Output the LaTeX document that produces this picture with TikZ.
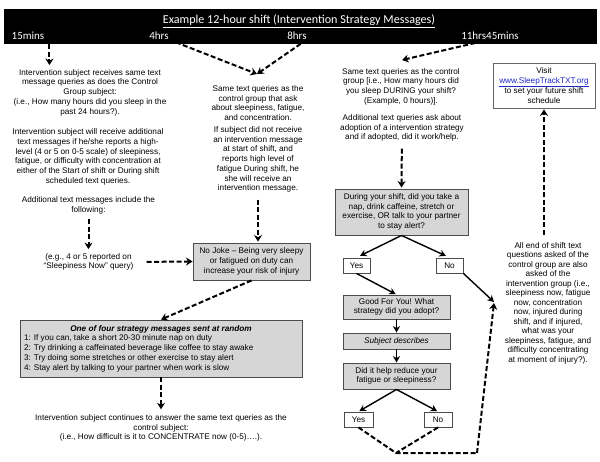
\documentclass[tikz,border=0pt]{standalone}
\usepackage{fontspec}
\setmainfont{Liberation Sans}
\newfontfamily\calfont{Carlito}
\usetikzlibrary{arrows.meta}
\definecolor{boxgray}{gray}{0.84}
\definecolor{linkblue}{RGB}{30,40,200}
\begin{document}
\begin{tikzpicture}[x=1pt,y=-1pt,
  txt/.style={align=center, font=\fontsize{8.2}{9.7}\selectfont, inner sep=0pt},
  gbox/.style={draw=black!70, fill=boxgray, line width=0.9pt, align=center, inner sep=1pt,
     font=\fontsize{8.2}{9.7}\selectfont},
  wbox/.style={draw=black!70, fill=white, line width=0.9pt, align=center, inner sep=1pt,
     font=\fontsize{8.2}{9.7}\selectfont},
  banlabel/.style={text=white, font=\calfont\fontsize{11}{12}\selectfont, inner sep=0pt},
  darr/.style={-{Stealth[length=6.5pt,width=8pt]}, line width=2pt, dash pattern=on 5pt off 2.5pt},
  dline/.style={line width=2pt, dash pattern=on 5pt off 2.5pt},
  sarr/.style={-{Stealth[length=6.5pt,width=7pt]}, line width=1.4pt},
]
\useasboundingbox (0,0) rectangle (600,462);

% banner
\node[fill=black, minimum width=593pt, minimum height=35pt, inner sep=0pt] (banner) at (300.5,26.5) {};
\node[banlabel, font=\calfont\fontsize{12.1}{13}\selectfont] (title) at (299,21) {\underline{Example 12-hour shift (Intervention Strategy Messages)}};
\node[banlabel] (t1) at (28,35.5) {15mins};
\node[banlabel] (t2) at (159,35.5) {4hrs};
\node[banlabel] (t3) at (297,35.5) {8hrs};
\node[banlabel] (t4) at (490,35.5) {11hrs45mins};

% left column
\node[txt] (L1) at (90,92.5) {Intervention subject receives same text\\message queries as does the Control\\Group subject:\\(i.e., How many hours did you sleep in the\\past 24 hours?).};
\node[txt] (L2) at (88,157) {Intervention subject will receive additional\\text messages if he/she reports a high-\\level (4 or 5 on 0-5 scale) of sleepiness,\\fatigue, or difficulty with concentration at\\either of the Start of shift or During shift\\scheduled text queries.};
\node[txt] (L3) at (88.5,205.5) {Additional text messages include the\\following:};
\node[txt] (L4) at (88.5,262) {(e.g., 4 or 5 reported on\\``Sleepiness Now'' query)};

% middle column
\node[txt] (M1) at (258,103) {Same text queries as the\\control group that ask\\about sleepiness, fatigue,\\and concentration.};
\node[txt] (M2) at (258,159.5) {If subject did not receive\\an intervention message\\at start of shift, and\\reports high level of\\fatigue During shift, he\\she will receive an\\intervention message.};
\node[gbox, minimum width=117pt, minimum height=37pt] (nojoke) at (251.5,261.5) {No Joke -- Being very sleepy\\or fatigued on duty can\\increase your risk of injury};

\node[gbox, minimum width=282pt, minimum height=57pt, align=left] (strat) at (161,348.5)
  {\makebox[274pt][c]{\bfseries\itshape One of four strategy messages sent at random}\\
   1: If you can, take a short 20-30 minute nap on duty\\
   2: Try drinking a caffeinated beverage like coffee to stay awake\\
   3: Try doing some stretches or other exercise to stay alert\\
   4: Stay alert by talking to your partner when work is slow};
\node[txt] (L5) at (161,428) {Intervention subject continues to answer the same text queries as the\\control subject:\\(i.e., How difficult is it to CONCENTRATE now (0-5)\dots.).};

% right-middle column
\node[txt] (R1) at (401,86.5) {Same text queries as the control\\group [i.e., How many hours did\\you sleep DURING your shift?\\(Example, 0 hours)].};
\node[txt] (R2) at (402,128) {Additional text queries ask about\\adoption of a intervention strategy\\and if adopted, did it work/help.};
\node[gbox, minimum width=133pt, minimum height=46pt] (Q1) at (401.5,212) {During your shift, did you take a\\nap, drink caffeine, stretch or\\exercise, OR talk to your partner\\to stay alert?};
\node[wbox, minimum width=27pt, minimum height=15pt] (yes1) at (356.5,265.5) {Yes};
\node[wbox, minimum width=27pt, minimum height=15pt] (no1) at (449.5,265.5) {No};
\node[gbox, minimum width=107pt, minimum height=24pt] (good) at (396.5,307) {Good For You! What\\strategy did you adopt?};
\node[gbox, minimum width=107pt, minimum height=16pt, font=\fontsize{8.2}{9.7}\selectfont\itshape] (subj) at (396.5,341) {Subject describes};
\node[gbox, minimum width=107pt, minimum height=26pt] (did) at (396.5,376) {Did it help reduce your\\fatigue or sleepiness?};
\node[wbox, minimum width=29pt, minimum height=15pt] (yes2) at (358.5,419.5) {Yes};
\node[wbox, minimum width=28pt, minimum height=15pt] (no2) at (438,419.5) {No};

% right column
\node[draw=black!60, fill=white, line width=0.8pt, align=center, inner sep=1pt,
      font=\fontsize{8.2}{9.3}\selectfont, minimum width=102pt, minimum height=45pt] (visit) at (544,85.5)
  {Visit\\\textcolor{linkblue}{\underline{www.SleepTrackTXT.org}}\\to set your future shift\\schedule};
\node[txt, font=\fontsize{8.2}{9.5}\selectfont] (E) at (548,303) {All end of shift text\\questions asked of the\\control group are also\\asked of the\\intervention group (i.e.,\\sleepiness now, fatigue\\now, concentration\\now, injured during\\shift, and if injured,\\what was your\\sleepiness, fatigue, and\\difficulty concentrating\\at moment of injury?).};

% named free ends
\coordinate (m1) at (257,74);
\coordinate (r1) at (402,60);
\coordinate (conv) at (494,302);
\coordinate (join) at (396,453);
\coordinate (corner) at (477,453);

% connectors from banner
\draw[darr, shorten >=4pt] ([xshift=5pt]t1.east |- banner.south) -- ([xshift=5pt]t1.east |- L1.north);
\draw[darr] (t2.south east) -- (m1);
\draw[darr] (t3.south east) -- (m1);
\draw[darr] (t4.south) -- (r1);

% left flow
\draw[darr, shorten <=5pt, shorten >=4pt] (L3) -- (L4);
\draw[darr, shorten <=13pt] (L4.east) -- (nojoke.west);
\draw[darr, shorten <=7pt, shorten >=1pt] (M2) -- (M2 |- nojoke.north);
\draw[darr] (nojoke.south) -- (strat.north);
\draw[darr, shorten >=5pt] (strat.south) -- (L5.north);

% right flow
\draw[darr, shorten <=7pt, shorten >=1pt] (R2) -- (Q1.north);
\draw[sarr, shorten >=4pt] (Q1.south) -- (yes1.north);
\draw[sarr, shorten >=4pt] (Q1.south) -- (no1.north);
\draw[sarr, shorten >=1pt] (yes1.south) -- (good.north);
\draw[sarr] (no1.south east) -- (conv);
\draw[sarr] (good) -- (subj);
\draw[sarr] (subj) -- (did);
\draw[sarr, shorten >=1pt] (did.south) -- (yes2.north);
\draw[sarr, shorten >=1pt] (did.south) -- (no2.north);
\draw[dline] (yes2.south) -- (join) -- (corner);
\draw[dline] (no2.south) -- (join);
\draw[darr] (corner) -- ([yshift=-1pt]conv);
\draw[darr, shorten <=7pt, shorten >=1pt] (E.north -| visit.south) -- (visit.south);
\end{tikzpicture}
\end{document}
